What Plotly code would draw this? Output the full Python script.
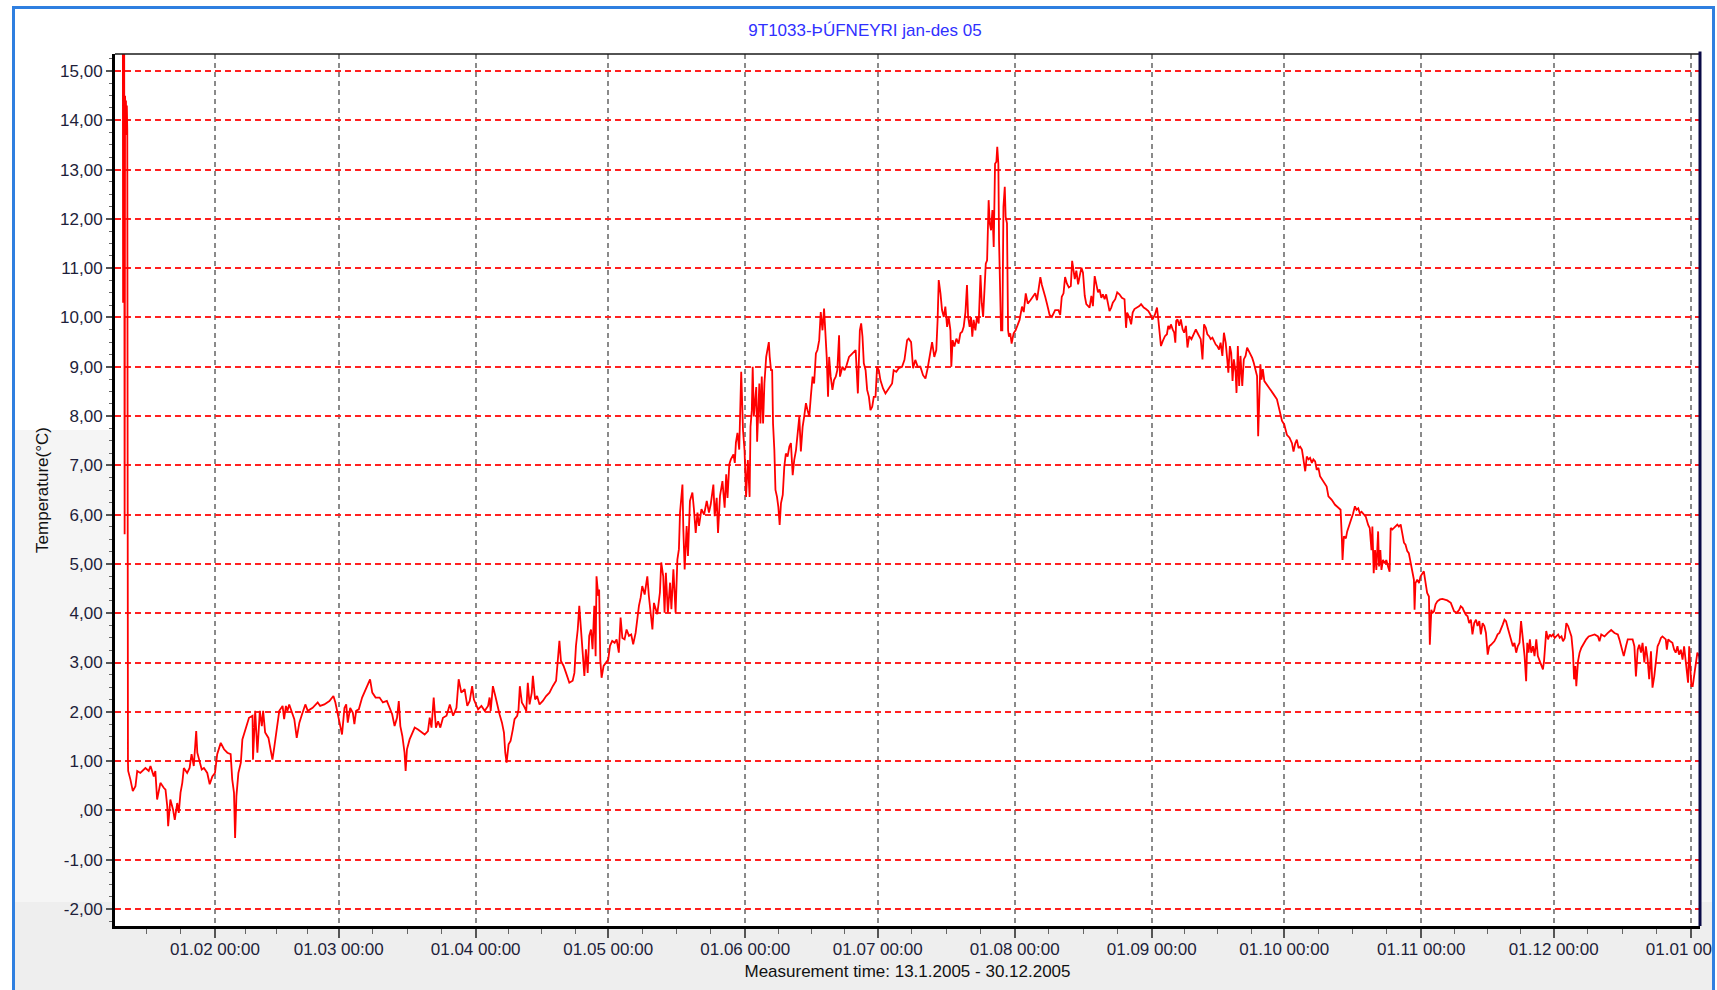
import pandas as pd
import plotly.graph_objects as go

TITLE = "9T1033-ÞÚFNEYRI jan-des 05"
X_TITLE = "Measurement time: 13.1.2005 - 30.12.2005"
Y_TITLE = "Temperature(°C)"
YEAR_START = "2005-01-01"

# (day of year 2005 counted from 1 Jan 00:00, temperature °C)
jan_mar = [
    (10.15, 16.0), (10.2, 10.3), (10.3, 16.0), (10.45, 15.6), (10.55, 5.6), (10.65, 14.5),
    (10.75, 14.1), (10.85, 14.4), (10.95, 13.7), (11.05, 14.3), (11.15, 13.8), (11.3, 1.0),
    (11.35, 0.8), (11.85, 0.63), (12.4, 0.39), (13.0, 0.49), (13.4, 0.8), (14.1, 0.76),
    (15.25, 0.86), (16.0, 0.8), (16.4, 0.9), (17.15, 0.69), (17.5, 0.8), (17.9, 0.22),
    (18.65, 0.56), (19.4, 0.46), (19.8, 0.42), (20.2, 0.08), (20.4, -0.32), (20.9, 0.22),
    (21.5, 0.02), (21.9, -0.19), (22.45, 0.15), (22.8, -0.05), (23.2, 0.36), (23.6, 0.56),
    (23.95, 0.86), (24.7, 0.76), (25.25, 0.86), (25.7, 1.14), (26.2, 0.9), (26.75, 1.61),
    (27.0, 1.17), (27.5, 1.0), (28.0, 0.83), (28.5, 0.86), (29.25, 0.76), (29.8, 0.53),
    (30.4, 0.69), (31.0, 0.76), (31.5, 1.14), (32.3, 1.37), (33.05, 1.24), (33.8, 1.17),
    (34.55, 1.14), (34.9, 0.63), (35.3, 0.36), (35.55, -0.56), (35.85, 0.29), (36.3, 0.76),
    (36.85, 0.97), (37.2, 1.44), (38.0, 1.68), (38.7, 1.88), (39.5, 1.92), (39.6, 1.03),
    (40.1, 2.02), (40.6, 1.17), (41.15, 2.02), (41.6, 1.71), (41.9, 2.02), (42.35, 1.58),
    (43.1, 1.47), (43.65, 1.24), (44.0, 1.03), (44.4, 1.27), (44.9, 1.64), (45.55, 2.02),
    (46.3, 2.12), (46.65, 1.85), (47.05, 2.12), (47.4, 2.02), (47.8, 2.15), (48.2, 2.05),
    (48.95, 1.85), (49.5, 1.47), (50.1, 1.78), (50.7, 1.95), (51.45, 2.15), (52.0, 2.02),
    (53.1, 2.08), (54.25, 2.19), (54.8, 2.12), (55.75, 2.15), (56.9, 2.22), (57.8, 2.32),
    (58.25, 2.19), (58.8, 1.95), (59.3, 1.71), (59.75, 1.54), (60.3, 2.08), (60.7, 2.15),
    (61.05, 1.78), (61.6, 2.08), (62.2, 1.98), (62.55, 1.75), (62.95, 2.02), (63.55, 2.05),
    (64.3, 2.29), (65.05, 2.46), (65.65, 2.59), (66.1, 2.66), (66.6, 2.39), (67.35, 2.29),
    (68.25, 2.29), (69.0, 2.19), (69.9, 2.22), (70.5, 2.08), (71.1, 1.95), (71.65, 1.71),
    (72.2, 1.88), (72.6, 2.22), (72.95, 1.71), (73.4, 1.51), (73.9, 1.17), (74.15, 0.8),
    (74.45, 1.24), (75.05, 1.44), (75.65, 1.58), (76.2, 1.68), (76.95, 1.64), (77.7, 1.58),
    (78.45, 1.54), (79.2, 1.61), (79.6, 1.88), (80.0, 1.68), (80.5, 2.29), (81.0, 1.68),
    (81.5, 1.81), (82.0, 1.68), (82.6, 1.88), (83.4, 1.92), (84.15, 2.15), (84.9, 1.92),
    (85.65, 2.08), (86.15, 2.66), (86.75, 2.39), (87.5, 2.46), (88.1, 2.12), (88.65, 2.22),
    (89.2, 2.52), (89.6, 2.25),
]

apr_jun = [
    (90.55, 2.05), (91.3, 2.12), (92.05, 2.02), (92.8, 2.12), (93.15, 2.29), (93.4, 2.02),
    (93.9, 2.52), (94.45, 2.32), (94.9, 2.12), (95.4, 1.95), (95.95, 1.78), (96.4, 1.58),
    (96.7, 1.17), (97.0, 0.97), (97.45, 1.34), (97.9, 1.41), (98.4, 1.64), (98.8, 1.85),
    (99.4, 1.92), (99.7, 2.05), (100.0, 2.52), (100.45, 2.19), (100.9, 2.12), (101.45, 2.02),
    (101.8, 2.59), (102.2, 2.15), (102.7, 2.39), (102.95, 2.73), (103.45, 2.25), (103.9, 2.32),
    (104.45, 2.15), (105.2, 2.22), (105.95, 2.32), (106.7, 2.39), (107.45, 2.52), (108.2, 2.63),
    (108.55, 3.0), (108.95, 3.44), (109.3, 3.03), (109.9, 2.93), (110.45, 2.79), (111.2, 2.59),
    (111.95, 2.63), (112.35, 2.79), (112.7, 3.34), (113.1, 3.67), (113.45, 4.15), (113.85, 3.67),
    (114.2, 3.13), (114.6, 2.73), (114.95, 3.27), (115.35, 2.79), (115.7, 3.54), (116.1, 3.67),
    (116.45, 3.27), (116.85, 4.15), (117.15, 3.13), (117.35, 4.75), (117.75, 4.35), (117.95, 4.48),
    (118.2, 3.06), (118.5, 2.69), (118.95, 2.93), (119.5, 3.0), (120.0, 3.06), (120.4, 3.34),
    (120.9, 3.44), (121.45, 3.40), (121.9, 3.47), (122.4, 3.2), (122.8, 3.91), (123.2, 3.5),
    (123.7, 3.47), (124.15, 3.67), (124.7, 3.54), (125.2, 3.57), (125.65, 3.37), (126.2, 3.6),
    (126.6, 3.94), (126.95, 4.15), (127.35, 4.32), (127.7, 4.55), (128.25, 4.38), (128.85, 4.75),
    (129.2, 4.35), (129.6, 3.94), (130.0, 3.67), (130.35, 4.21), (130.75, 4.08), (131.1, 3.98),
    (131.7, 4.42), (132.0, 5.03), (132.45, 4.75), (132.75, 4.01), (133.05, 4.82), (133.5, 4.01),
    (134.0, 4.62), (134.3, 4.08), (134.75, 4.89), (135.25, 4.01), (135.65, 5.09), (136.0, 5.3),
    (136.25, 6.04), (136.55, 6.31), (136.8, 6.61), (137.0, 5.7), (137.3, 4.89), (137.75, 5.77),
    (138.05, 5.16), (138.5, 6.28), (139.05, 6.45), (139.4, 6.11), (139.8, 5.63), (140.2, 6.04),
    (140.55, 5.77), (141.1, 6.11), (141.7, 6.0), (142.3, 6.28), (142.8, 6.04), (143.2, 6.21),
    (143.8, 6.61), (144.1, 5.97), (144.55, 6.34), (144.85, 5.63), (145.3, 6.38), (145.85, 6.68),
    (146.35, 6.14), (146.7, 6.82), (147.0, 6.34), (147.4, 7.02), (147.75, 7.12), (148.35, 7.22),
    (148.65, 7.05), (148.9, 7.46), (149.25, 7.66), (149.65, 7.32), (150.1, 8.9), (150.5, 7.72),
    (150.85, 7.31), (151.2, 6.36), (151.6, 7.11), (152.0, 6.36), (152.2, 7.78), (152.5, 8.12),
    (152.7, 9.0), (152.95, 7.99), (153.25, 8.32), (153.5, 8.59), (153.7, 7.48), (154.0, 8.46),
    (154.2, 8.66), (154.45, 7.85), (154.75, 8.8), (155.05, 7.85), (155.35, 8.66), (155.75, 9.2),
    (156.1, 9.41), (156.35, 9.5), (156.55, 9.2), (156.85, 8.93), (157.1, 8.93), (157.3, 7.85),
    (157.6, 7.31), (157.85, 6.5), (158.2, 6.36), (158.5, 6.16), (158.8, 5.79), (159.1, 6.23),
    (159.5, 6.4), (159.85, 6.97), (160.2, 7.24), (160.6, 7.18), (161.0, 7.38), (161.35, 7.45),
    (161.75, 6.8), (162.1, 7.11), (162.5, 7.31), (162.85, 7.72), (163.25, 7.99), (163.6, 7.28),
    (164.0, 7.78), (164.35, 7.99), (164.75, 8.26), (165.1, 8.12), (165.5, 7.99), (165.85, 8.39),
    (166.25, 8.8), (166.6, 8.66), (167.0, 9.27), (167.35, 9.34), (167.75, 9.54), (168.1, 10.11),
    (168.5, 9.74), (168.85, 10.18), (169.25, 9.61), (169.45, 9.2), (169.75, 8.39), (170.0, 9.2),
    (170.35, 8.8), (170.75, 8.53), (171.1, 8.73), (171.5, 8.8), (171.85, 8.93), (172.25, 9.64),
    (172.45, 8.8), (173.0, 9.0), (173.5, 8.93), (173.95, 9.03), (174.5, 9.2), (175.25, 9.27),
    (176.0, 9.34), (176.5, 8.46), (176.95, 9.74), (177.25, 9.88), (177.55, 9.61), (177.85, 9.07),
    (178.25, 8.93), (178.6, 8.53), (179.0, 8.39), (179.35, 8.12), (179.75, 8.19), (180.1, 8.39),
    (180.5, 8.39), (180.85, 9.0),
]

jul_sep = [
    (181.25, 8.93), (181.6, 8.73), (182.2, 8.56), (182.75, 8.46), (183.5, 8.56), (184.25, 8.66),
    (184.6, 8.93), (185.2, 8.9), (185.75, 8.97), (186.5, 9.0), (187.05, 9.14), (187.65, 9.54),
    (188.0, 9.57), (188.55, 9.5), (189.0, 8.97), (189.5, 9.14), (190.05, 9.0), (190.65, 9.0),
    (191.25, 8.83), (191.8, 8.76), (192.3, 8.97), (192.75, 9.2), (193.3, 9.5), (193.8, 9.2),
    (194.25, 9.34), (194.55, 9.95), (194.8, 10.76), (195.2, 10.49), (195.55, 10.15), (195.95, 10.01),
    (196.3, 10.22), (196.7, 9.81), (197.05, 10.01), (197.45, 9.74), (197.65, 9.0), (197.95, 9.54),
    (198.35, 9.41), (198.8, 9.57), (199.3, 9.47), (199.7, 9.68), (200.1, 9.71), (200.45, 9.81),
    (200.85, 10.11), (201.2, 10.66), (201.45, 10.01), (201.8, 9.81), (202.1, 10.01), (202.4, 9.61),
    (202.7, 9.95), (203.1, 9.74), (203.45, 10.01), (203.85, 9.88), (204.25, 10.86), (204.55, 10.28),
    (204.85, 10.01), (205.15, 10.55), (205.45, 11.09), (205.75, 11.16), (206.1, 12.38), (206.35, 11.91),
    (206.65, 11.77), (206.95, 12.18), (207.25, 11.43), (207.55, 13.12), (207.85, 13.16), (208.05, 13.46),
    (208.3, 13.12), (208.45, 11.57), (208.7, 10.35), (208.9, 9.74), (209.2, 9.74), (209.45, 12.24),
    (209.75, 12.65), (209.95, 12.04), (210.25, 11.91), (210.5, 9.74), (210.7, 9.61), (211.0, 9.68),
    (211.3, 9.47), (211.75, 9.68), (212.2, 9.74), (212.7, 9.88), (213.1, 9.95), (213.65, 10.22),
    (214.05, 10.11), (214.5, 10.49), (214.95, 10.28), (215.55, 10.35), (216.15, 10.42), (216.65, 10.49),
    (217.05, 10.35), (217.4, 10.62), (217.8, 10.82), (218.15, 10.66), (218.55, 10.55), (218.9, 10.42),
    (219.3, 10.28), (219.9, 10.05), (220.4, 10.01), (221.15, 10.15), (221.9, 10.15), (222.3, 10.05),
    (222.65, 10.42), (223.05, 10.49), (223.4, 10.82), (223.8, 10.69), (224.25, 10.61), (224.7, 10.64),
    (225.0, 11.15), (225.3, 10.98), (225.6, 10.78), (225.95, 10.95), (226.35, 10.67), (226.7, 10.84),
    (227.1, 11.01), (227.45, 10.91), (227.85, 10.44), (228.2, 10.27), (228.6, 10.23), (228.95, 10.2),
    (229.35, 10.44), (229.7, 10.23), (230.1, 10.84), (230.45, 10.71), (230.85, 10.51), (231.2, 10.57),
    (231.6, 10.4), (231.95, 10.47), (232.35, 10.37), (232.7, 10.47), (233.1, 10.27), (233.45, 10.13),
    (233.85, 10.2), (234.2, 10.3), (234.75, 10.37), (235.2, 10.51), (235.7, 10.47), (236.25, 10.4),
    (236.85, 10.37), (237.2, 9.79), (237.45, 10.1), (237.95, 10.0), (238.35, 9.86), (238.7, 10.1),
    (239.1, 10.17), (239.7, 10.2), (240.2, 10.23), (240.6, 10.27), (241.2, 10.2), (241.7, 10.17),
    (242.25, 10.13), (242.7, 10.06), (243.2, 9.96), (243.75, 10.06), (244.2, 10.2), (244.5, 9.96),
    (244.8, 9.62), (245.1, 9.42), (245.5, 9.52), (246.0, 9.62), (246.45, 9.66), (246.75, 9.83),
    (247.05, 9.76), (247.35, 9.86), (247.75, 9.76), (248.1, 9.69), (248.35, 9.49), (248.55, 9.93),
    (248.85, 9.96), (249.25, 9.83), (249.6, 9.96), (250.0, 9.76), (250.35, 9.69), (250.75, 9.83),
    (251.1, 9.39), (251.5, 9.62), (252.0, 9.56), (252.45, 9.66), (253.0, 9.76), (253.35, 9.69),
    (253.75, 9.62), (254.1, 9.56), (254.5, 9.15), (254.85, 9.86), (255.25, 9.79), (255.6, 9.66),
    (256.0, 9.62), (256.35, 9.56), (256.75, 9.59), (257.1, 9.52), (257.5, 9.45), (257.85, 9.42),
    (258.25, 9.35), (258.6, 9.49), (259.0, 9.22), (259.35, 9.69), (259.75, 9.49), (260.1, 9.15),
    (260.35, 8.88), (260.7, 9.42), (261.0, 9.28), (261.3, 8.71), (261.6, 9.15), (262.0, 8.88),
    (262.2, 8.47), (262.5, 9.42), (262.8, 8.61), (263.1, 9.22), (263.5, 8.61), (263.85, 9.15),
    (264.25, 9.22), (264.6, 9.39), (265.0, 9.32), (265.35, 9.25), (265.75, 9.18), (266.1, 9.08),
    (266.5, 8.95), (266.85, 8.81), (267.1, 7.59), (267.3, 8.27), (267.6, 9.05), (267.85, 8.74),
    (268.15, 8.95), (268.5, 8.71), (269.1, 8.64), (269.85, 8.54), (270.6, 8.44), (271.35, 8.34),
    (271.75, 8.17), (272.1, 8.0), (272.5, 7.9),
]

oct_dec = [
    (273.0, 7.83), (273.6, 7.62), (274.2, 7.56), (274.75, 7.45), (275.1, 7.28), (275.5, 7.45),
    (275.85, 7.52), (276.25, 7.35), (276.6, 7.38), (277.0, 7.32), (277.35, 7.12), (277.75, 6.88),
    (278.1, 7.18), (278.5, 7.12), (278.85, 7.15), (279.25, 7.05), (279.6, 7.12), (280.0, 7.08),
    (280.35, 6.91), (280.75, 6.95), (281.1, 6.78), (281.85, 6.67), (282.6, 6.57), (283.0, 6.37),
    (283.75, 6.3), (284.5, 6.2), (285.25, 6.13), (285.75, 6.1), (286.0, 5.62), (286.2, 5.08),
    (286.5, 5.56), (286.95, 5.52), (287.25, 5.66), (287.7, 5.79), (288.25, 5.9), (288.6, 6.03),
    (289.0, 6.17), (289.35, 6.1), (289.75, 6.13), (290.1, 6.03), (290.5, 6.06), (290.85, 6.03),
    (291.45, 5.96), (292.0, 5.79), (292.35, 5.73), (292.75, 5.28), (292.95, 5.76), (293.25, 4.81),
    (293.55, 5.28), (293.85, 4.88), (294.25, 5.66), (294.45, 4.95), (294.75, 5.28), (295.0, 4.88),
    (295.35, 5.08), (295.75, 5.01), (296.1, 5.08), (296.5, 4.95), (296.85, 4.84), (297.1, 5.73),
    (297.45, 5.7), (297.85, 5.73), (298.2, 5.76), (298.6, 5.8), (298.95, 5.76), (299.35, 5.8),
    (299.7, 5.63), (300.1, 5.43), (300.45, 5.39), (300.85, 5.26), (301.2, 5.22), (301.6, 5.05),
    (301.95, 4.92), (302.35, 4.68), (302.5, 4.07), (302.7, 4.61), (303.1, 4.68), (303.5, 4.61),
    (303.85, 4.75), (304.25, 4.82), (304.6, 4.85), (305.0, 4.61), (305.35, 4.41), (305.75, 4.34),
    (305.95, 3.36), (306.3, 4.07), (306.5, 4.0), (306.9, 4.04), (307.25, 4.18), (307.65, 4.24),
    (308.25, 4.28), (308.8, 4.29), (309.3, 4.28), (309.9, 4.26), (310.7, 4.21), (311.05, 4.11),
    (311.45, 4.04), (312.05, 4.01), (312.6, 4.07), (312.95, 4.14), (313.35, 4.11), (313.7, 4.04),
    (314.1, 3.97), (314.5, 3.94), (314.85, 3.8), (315.25, 3.87), (315.6, 3.57), (316.0, 3.8),
    (316.4, 3.87), (316.75, 3.74), (317.15, 3.84), (317.5, 3.57), (317.9, 3.8), (318.3, 3.74),
    (318.65, 3.6), (319.05, 3.16), (319.4, 3.33), (319.8, 3.36), (320.15, 3.4), (320.55, 3.43),
    (320.95, 3.5), (321.3, 3.57), (321.7, 3.6), (322.05, 3.7), (322.45, 3.77), (322.85, 3.87),
    (323.2, 3.84), (323.6, 3.7), (323.95, 3.57), (324.35, 3.47), (324.75, 3.33), (325.1, 3.4),
    (325.5, 3.2), (325.85, 3.33), (326.25, 3.4), (326.6, 3.84), (327.0, 3.5), (327.4, 3.13),
    (327.75, 2.62), (328.0, 3.4), (328.3, 3.2), (328.6, 3.47), (328.9, 3.2), (329.3, 3.33),
    (329.65, 3.13), (330.05, 3.47), (330.4, 3.13), (330.8, 3.03), (331.2, 2.93), (331.55, 2.86),
    (331.8, 3.03), (332.1, 3.5), (332.3, 3.64), (332.7, 3.47), (333.1, 3.57), (333.45, 3.53),
    (333.85, 3.57), (334.2, 3.5), (334.6, 3.53), (335.0, 3.57), (335.35, 3.5), (335.75, 3.53),
    (336.1, 3.43), (336.5, 3.5), (336.85, 3.8), (337.25, 3.74), (337.6, 3.64), (338.0, 3.53),
    (338.35, 3.2), (338.6, 2.66), (338.9, 2.93), (339.1, 2.52), (339.5, 3.03), (339.85, 3.2),
    (340.25, 3.3), (340.85, 3.4), (341.35, 3.47), (341.9, 3.53), (342.5, 3.55), (343.25, 3.57),
    (344.0, 3.53), (344.35, 3.43), (344.75, 3.57), (345.5, 3.53), (346.25, 3.6), (347.0, 3.66),
    (347.75, 3.6), (348.5, 3.57), (348.85, 3.47), (349.25, 3.33), (349.85, 3.13), (350.35, 3.33),
    (350.75, 3.47), (351.35, 3.47), (351.85, 3.47), (352.25, 3.33), (352.6, 2.72), (353.0, 3.26),
    (353.35, 3.36), (353.75, 3.2), (354.1, 3.4), (354.5, 3.0), (354.85, 3.33), (355.25, 3.06),
    (355.6, 2.66), (356.0, 3.23), (356.35, 2.49), (356.75, 2.72), (357.1, 3.06), (357.5, 3.33),
    (357.85, 3.4), (358.25, 3.5), (358.6, 3.53), (359.0, 3.5), (359.35, 3.47), (359.6, 3.26),
    (359.9, 3.47), (360.35, 3.43), (360.85, 3.4), (361.25, 3.26), (361.6, 3.2), (362.0, 3.33),
    (362.35, 3.16), (362.75, 3.26), (363.15, 3.06), (363.5, 3.33), (363.9, 3.03), (364.1, 2.93),
    (364.4, 2.59), (364.65, 3.33), (364.85, 2.93), (365.15, 2.52), (365.45, 2.52), (365.75, 2.72),
    (366.15, 2.93), (366.5, 3.2), (366.9, 3.13), (367.1, 3.03),
]

y_tick_values = list(range(-2, 16))
y_tick_labels = ["-2,00", "-1,00", ",00"] + [f"{v},00" for v in range(1, 16)]
month_starts = ["2005-02-01", "2005-03-01", "2005-04-01", "2005-05-01", "2005-06-01",
                "2005-07-01", "2005-08-01", "2005-09-01", "2005-10-01", "2005-11-01",
                "2005-12-01", "2006-01-01"]
month_labels = ["01.02 00:00", "01.03 00:00", "01.04 00:00", "01.05 00:00", "01.06 00:00",
                "01.07 00:00", "01.08 00:00", "01.09 00:00", "01.10 00:00", "01.11 00:00",
                "01.12 00:00", "01.01 00:00"]
x_view_days = (8.37, 367.1)
y_view = (-2.345, 15.345)

# ---------------------------------------------------------------- build
base = pd.Timestamp(YEAR_START)
points = jan_mar + apr_jun + jul_sep + oct_dec
x_time = [base + pd.Timedelta(days=d) for d, _ in points]
y_temp = [t for _, t in points]

# quarter-month minor ticks
bounds = pd.date_range("2005-01-01", "2006-02-01", freq="MS")
minor_x = []
for a, b in zip(bounds[:-1], bounds[1:]):
    for k in (1, 2, 3):
        minor_x.append((a + (b - a) * k / 4).strftime("%Y-%m-%d %H:%M:%S"))

W, H = 1717, 990
L, R, T, B = 115, 1700, 54, 926


def px_x(p):
    return (p - L) / (R - L)


def px_y(p):
    return (B - p) / (B - T)


FONT = "Liberation Sans, Arial, sans-serif"
TXT = "#1e1e3a"

fig = go.Figure()
fig.add_trace(go.Scatter(
    x=x_time, y=y_temp, mode="lines",
    line=dict(color="#ff0000", width=1.8),
    showlegend=False, hoverinfo="x+y",
))

shapes = [
    # background bands (inside the blue frame)
    dict(type="rect", xref="paper", yref="paper", layer="below",
         x0=px_x(14), x1=px_x(1712), y0=px_y(430), y1=px_y(902),
         fillcolor="#f5f5f5", line=dict(width=0)),
    dict(type="rect", xref="paper", yref="paper", layer="below",
         x0=px_x(14), x1=px_x(1712), y0=px_y(902), y1=px_y(1000),
         fillcolor="#eeeeee", line=dict(width=0)),
    # keep the plotting area itself white
    dict(type="rect", xref="paper", yref="paper", layer="below",
         x0=0, x1=1, y0=0, y1=1, fillcolor="#ffffff", line=dict(width=0)),
    # plot frame: top thin, right dark
    dict(type="line", xref="x domain", yref="y domain", layer="above",
         x0=0, x1=1, y0=1, y1=1, line=dict(color="#1a1a1a", width=1.5)),
    dict(type="line", xref="x domain", yref="y domain", layer="above",
         x0=1, x1=1, y0=0, y1=1.003, line=dict(color="#0a0a46", width=3)),
    # hide tick label spill beyond the window frame
    dict(type="rect", xref="paper", yref="paper", layer="above",
         x0=px_x(1714.5), x1=px_x(1800), y0=px_y(928), y1=px_y(1000),
         fillcolor="#ffffff", line=dict(width=0)),
    # blue outer frame
    dict(type="line", xref="paper", yref="paper", layer="above",
         x0=px_x(13.5), x1=px_x(13.5), y0=px_y(6), y1=px_y(1000),
         line=dict(color="#2f7fe0", width=3)),
    dict(type="line", xref="paper", yref="paper", layer="above",
         x0=px_x(12), x1=px_x(1715), y0=px_y(7.5), y1=px_y(7.5),
         line=dict(color="#2f7fe0", width=3)),
    dict(type="line", xref="paper", yref="paper", layer="above",
         x0=px_x(1713.5), x1=px_x(1713.5), y0=px_y(6), y1=px_y(1000),
         line=dict(color="#2f7fe0", width=3)),
]

fig.update_layout(
    width=W, height=H, autosize=False,
    margin=dict(l=L, r=W - R, t=T, b=H - B, pad=0, autoexpand=False),
    paper_bgcolor="#ffffff",
    plot_bgcolor="#ffffff",
    font=dict(family=FONT, size=17, color=TXT),
    title=dict(text=TITLE, x=865 / W, xref="container", xanchor="center",
               y=1 - 30 / H, yref="container", yanchor="middle",
               font=dict(family=FONT, size=17, color="#3030ff")),
    shapes=shapes,
    showlegend=False,
)

fig.update_xaxes(
    type="date", automargin=False,
    range=[base + pd.Timedelta(days=x_view_days[0]), base + pd.Timedelta(days=x_view_days[1])],
    tickmode="array", tickvals=month_starts, ticktext=month_labels,
    ticks="outside", ticklen=9, tickwidth=1.5, tickcolor="#555555",
    tickfont=dict(family=FONT, size=17, color=TXT),
    ticklabelstandoff=-3, ticklabeloverflow="allow",
    showgrid=True, gridcolor="#8a8a8a", gridwidth=1.5, griddash="5px,4px",
    showline=True, linecolor="#000000", linewidth=3, mirror=False,
    zeroline=False,
    minor=dict(tickmode="array", tickvals=minor_x, ticks="outside", ticklen=5,
               tickwidth=1.2, tickcolor="#666666", showgrid=False),
    title=dict(text=X_TITLE, standoff=7, font=dict(family=FONT, size=17, color="#111111")),
)

fig.update_yaxes(
    automargin=False,
    range=list(y_view),
    tickmode="array", tickvals=y_tick_values, ticktext=y_tick_labels,
    ticks="outside", ticklen=6, tickwidth=1.5, tickcolor="#555555",
    tickfont=dict(family=FONT, size=17, color=TXT),
    showgrid=True, gridcolor="#ff2020", gridwidth=1.5, griddash="6px,4px",
    showline=True, linecolor="#000000", linewidth=3, mirror=False,
    zeroline=False,
    minor=dict(tickmode="linear", tick0=0, dtick=0.25, ticks="outside", ticklen=3,
               tickwidth=1.2, tickcolor="#666666", showgrid=False),
    title=dict(text=Y_TITLE, standoff=8, font=dict(family=FONT, size=17, color="#111111")),
)

fig.write_html("out.html",
               config={"displayModeBar": False},
               post_script="document.body.style.margin='0';document.body.style.overflow='hidden';")
